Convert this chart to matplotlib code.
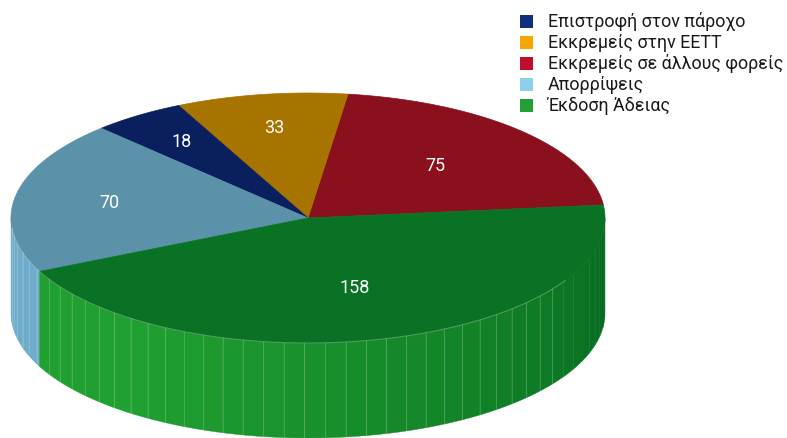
import numpy as np
import matplotlib
matplotlib.use("Agg")
import matplotlib.pyplot as plt
from matplotlib import font_manager
from matplotlib.patches import Polygon, Rectangle
from matplotlib.colors import to_rgb

plt.rcParams['font.family'] = ['Roboto', 'DejaVu Sans']

# legend order
labels = ["Επιστροφή στον πάροχο", "Εκκρεμείς στην ΕΕΤΤ",
          "Εκκρεμείς σε άλλους φορείς", "Απορρίψεις", "Έκδοση Άδειας"]
values = [18, 33, 75, 70, 158]
legend_colors = ["#10307f", "#f5a800", "#c00d2d", "#8cd0ee", "#21a036"]
top_colors = ["#0a1f5e", "#a87400", "#8b101e", "#5c91aa", "#0a7224"]
side_bright = ["#0d2870", "#c48a00", "#a01426", "#6eaccb", "#20a030"]
side_dark = ["#081a4c", "#8a6000", "#700c18", "#5a8fab", "#066a20"]
# counter-clockwise drawing order, starting at the right
draw_order = [2, 1, 0, 3, 4]
label_r = [0.74, 0.73, 0.60, 0.68, 0.58]
start_angle = 6.0

W, H = 787, 438
cx, cy, rx, ry, depth = 308, 218, 297, 125, 95

fig = plt.figure(figsize=(W / 100, H / 100), dpi=100)
ax = fig.add_axes([0, 0, 1, 1])
ax.set_xlim(0, W)
ax.set_ylim(H, 0)
ax.axis("off")


def ell(t, dy=0.0):
    t = np.radians(t)
    return cx + rx * np.cos(t), cy - ry * np.sin(t) + dy


def mix(c1, c2, f):
    a, b = np.array(to_rgb(c1)), np.array(to_rgb(c2))
    return tuple(a + (b - a) * f)


total = sum(values)
spans = []
a = start_angle
for i in draw_order:
    sweep = values[i] / total * 360.0
    spans.append((i, a, a + sweep))
    a += sweep

# side walls (front half only, 180..360 deg)
step = 4.0
for i, a1, a2 in spans:
    for off in (0.0, 360.0):
        lo, hi = max(a1, 180 + off), min(a2, 360 + off)
        if hi <= lo:
            continue
        ts = np.arange(lo, hi, step)
        ts = np.append(ts, hi)
        for t0, t1 in zip(ts[:-1], ts[1:]):
            tm = (t0 + t1) / 2 - off
            f = np.clip((tm - 235) / 125.0, 0, 1)
            col = mix(side_bright[i], side_dark[i], f)
            tt = np.linspace(t0, t1, 4)
            xt, yt = ell(tt)
            xb, yb = ell(tt[::-1], depth)
            pts = np.column_stack([np.r_[xt, xb], np.r_[yt, yb]])
            ax.add_patch(Polygon(pts, closed=True, fc=col, ec=col, lw=0.3))
            if t1 < hi and tm < 325:
                x0, y0 = ell(t1)
                ax.plot([x0, x0], [y0, y0 + depth], color="white",
                        alpha=0.16, lw=0.8)

# faint highlight on the front rim
rim = np.linspace(185, 330, 200)
ax.plot(*ell(rim), color="white", alpha=0.25, lw=0.8)

# top faces
for i, a1, a2 in spans:
    tt = np.linspace(a1, a2, 200)
    xs, ys = ell(tt)
    pts = np.column_stack([np.r_[cx, xs], np.r_[cy, ys]])
    ax.add_patch(Polygon(pts, closed=True, fc=top_colors[i],
                         ec=top_colors[i], lw=0.5))
    tm = np.radians((a1 + a2) / 2)
    lx = cx + rx * label_r[i] * np.cos(tm)
    ly = cy - ry * label_r[i] * np.sin(tm)
    ax.text(lx, ly, str(values[i]), color="white", fontsize=13,
            ha="center", va="center")

# legend: squeeze the widest label into the space left of the right edge
lx0, ly0, row, sq = 520, 15, 21, 12.5
texts = []
for k, (lab, col) in enumerate(zip(labels, legend_colors)):
    y = ly0 + k * row
    ax.add_patch(Rectangle((lx0, y), sq, sq, fc=col, ec="none"))
    texts.append(ax.text(548, y + sq / 2 + 0.5, lab, fontsize=13.5,
                         color="#1a1a1a", ha="left", va="center"))

fig.canvas.draw()
r = fig.canvas.get_renderer()
widest = max(t.get_window_extent(r).width for t in texts)
if widest > 234:
    for t in texts:
        t.set_fontsize(13.5 * 234 / widest)

fig.savefig("out.png", dpi=100)
